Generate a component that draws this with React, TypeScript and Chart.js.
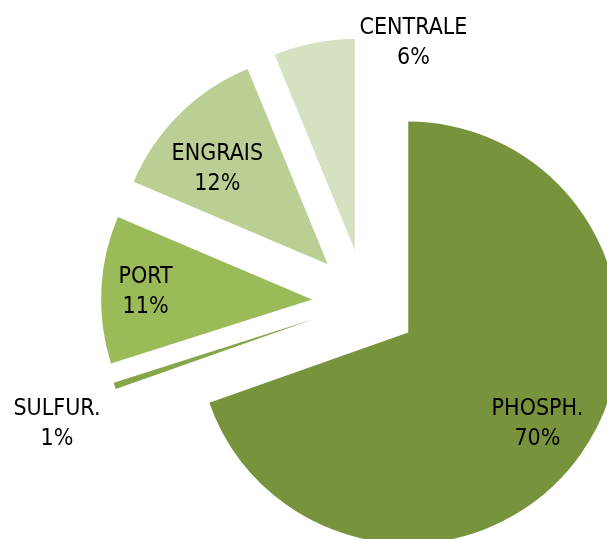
import React, { useEffect, useRef } from 'react';
import { Chart, registerables } from 'chart.js';

Chart.register(...registerables);

// ---- data ----
const categories = ['PHOSPH.', 'SULFUR.', 'PORT', 'ENGRAIS', 'CENTRALE'];
const shares = [69.6, 0.5, 11.3, 12.4, 6.2];
const sliceColors = ['#77933C', '#86A64A', '#9BBB59', '#BBCE93', '#D5E1C0'];

// ---- layout / style ----
const CANVAS_W = 730;
const CANVAS_H = 604;
const RADIUS = 211;
const EXPLODE = 53;
const FONT_SIZE = 23;
const LINE_GAP = 30;
const FONT_FAMILY = "'Liberation Sans Narrow', 'DejaVu Sans Condensed', 'Liberation Sans', sans-serif";
// label placement relative to each exploded slice apex: [radius fraction, angle shift (deg)]
const labelPlacement: [number, number][] = [
  [0.75, 0],
  [1.32, -3.7],
  [0.79, 0],
  [0.69, -4.7],
  [1.02, 27],
];

const explodePlugin = {
  id: 'explodeSlices',
  beforeDatasetDraw(chart: any, args: any) {
    const ctx = chart.ctx as CanvasRenderingContext2D;
    args.meta.data.forEach((arc: any) => {
      const mid = (arc.startAngle + arc.endAngle) / 2;
      ctx.save();
      ctx.translate(Math.cos(mid) * EXPLODE, Math.sin(mid) * EXPLODE);
      arc.draw(ctx, chart.chartArea);
      ctx.restore();
    });
    return false;
  },
  afterDatasetsDraw(chart: any) {
    const ctx = chart.ctx as CanvasRenderingContext2D;
    const meta = chart.getDatasetMeta(0);
    const values = chart.data.datasets[0].data as number[];
    const total = values.reduce((a, b) => a + b, 0);
    ctx.save();
    ctx.fillStyle = '#000';
    ctx.font = `${FONT_SIZE}px ${FONT_FAMILY}`;
    ctx.textAlign = 'center';
    ctx.textBaseline = 'middle';
    meta.data.forEach((arc: any, i: number) => {
      const mid = (arc.startAngle + arc.endAngle) / 2;
      const ax = arc.x + Math.cos(mid) * EXPLODE;
      const ay = arc.y + Math.sin(mid) * EXPLODE;
      const [frac, shift] = labelPlacement[i];
      const ang = mid + (shift * Math.PI) / 180;
      const r = arc.outerRadius * frac;
      const lx = ax + Math.cos(ang) * r;
      const ly = ay + Math.sin(ang) * r;
      const pct = Math.round((values[i] / total) * 100) + '%';
      ctx.fillText(String(chart.data.labels[i]), lx, ly - LINE_GAP / 2);
      ctx.fillText(pct, lx, ly + LINE_GAP / 2);
    });
    ctx.restore();
  },
};

export default function App() {
  const ref = useRef<HTMLCanvasElement | null>(null);
  useEffect(() => {
    if (!ref.current) return;
    const chart = new Chart(ref.current, {
      type: 'pie',
      data: {
        labels: categories,
        datasets: [
          {
            data: shares,
            backgroundColor: sliceColors,
            borderWidth: 0,
            hoverOffset: 0,
          },
        ],
      },
      options: {
        responsive: false,
        animation: false,
        devicePixelRatio: 1,
        radius: RADIUS,
        events: [],
        layout: { padding: 0 },
        plugins: {
          legend: { display: false },
          tooltip: { enabled: false },
          title: { display: false },
        },
      } as any,
      plugins: [explodePlugin as any],
    });
    return () => chart.destroy();
  }, []);
  return (
    <div
      style={{
        position: 'fixed',
        left: 0,
        top: 0,
        width: 607,
        height: 539,
        overflow: 'hidden',
        background: '#fff',
      }}
    >
      <canvas
        ref={ref}
        width={CANVAS_W}
        height={CANVAS_H}
        style={{ position: 'absolute', left: 0, top: 0, width: CANVAS_W, height: CANVAS_H, display: 'block' }}
      />
    </div>
  );
}
